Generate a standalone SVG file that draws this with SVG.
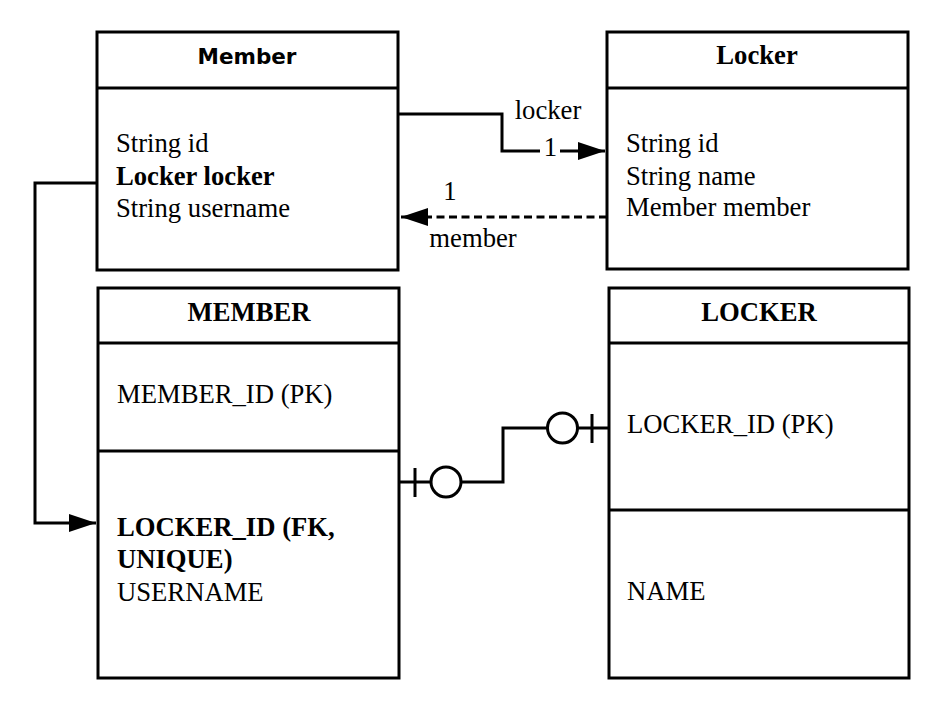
<svg xmlns="http://www.w3.org/2000/svg" width="942" height="702" viewBox="0 0 942 702">
<style>
.box{fill:#fff;stroke:#000;stroke-width:3}
.ln{fill:none;stroke:#000;stroke-width:3}
.t{font-family:"Liberation Serif","Times New Roman",serif;font-size:26.67px;fill:#000}
.b{font-weight:bold}
.st{font-family:"DejaVu Sans",sans-serif;font-size:21.5px;font-weight:bold;fill:#000}
.c{text-anchor:middle}
</style>
<defs>
<marker id="arr" viewBox="0 0 28 20" refX="27" refY="10" markerWidth="28" markerHeight="20" markerUnits="userSpaceOnUse" orient="auto">
<path d="M0,1 L27,10 L0,19 Z" fill="#000"/>
</marker>
</defs>
<g id="connectors">
<path class="ln" d="M398,114 H502 V151 H605" marker-end="url(#arr)"/>
<rect x="540" y="136" width="20" height="26" fill="#fff"/>
<text class="t c" x="550.5" y="156">1</text>
<text class="t c" x="548" y="119">locker</text>
<path class="ln" d="M607,217 H401" stroke-dasharray="8 4.5" marker-end="url(#arr)"/>
<text class="t c" x="450" y="200">1</text>
<text class="t c" x="473" y="247">member</text>
<path class="ln" d="M97,183 H35 V523 H96" marker-end="url(#arr)"/>
<path class="ln" d="M399,482 H430 M461,482 H503 V428 H547 M578,428 H609"/>
<line class="ln" x1="415" y1="468" x2="415" y2="497"/>
<circle class="ln" cx="446" cy="482" r="15"/>
<circle class="ln" cx="562.5" cy="428" r="15"/>
<line class="ln" x1="592" y1="414" x2="592" y2="443"/>
</g>
<g id="member-class">
<rect class="box" x="97" y="32" width="301" height="238"/>
<line class="ln" x1="97" y1="88" x2="398" y2="88"/>
<text class="st c" x="247" y="64">Member</text>
<text class="t" x="116" y="152">String id</text>
<text class="t b" x="116" y="185">Locker locker</text>
<text class="t" x="116" y="217">String username</text>
</g>
<g id="locker-class">
<rect class="box" x="607" y="32" width="301" height="237"/>
<line class="ln" x1="607" y1="88" x2="908" y2="88"/>
<text class="t b c" x="757" y="64">Locker</text>
<text class="t" x="626" y="152">String id</text>
<text class="t" x="626" y="185">String name</text>
<text class="t" x="626" y="216">Member member</text>
</g>
<g id="member-table">
<rect class="box" x="98" y="288" width="301" height="390"/>
<line class="ln" x1="98" y1="343" x2="399" y2="343"/>
<line class="ln" x1="98" y1="451" x2="399" y2="451"/>
<text class="t b c" x="249" y="321">MEMBER</text>
<text class="t" x="117" y="403">MEMBER_ID (PK)</text>
<text class="t b" x="117" y="536">LOCKER_ID (FK,</text>
<text class="t b" x="117" y="568">UNIQUE)</text>
<text class="t" x="117" y="601">USERNAME</text>
</g>
<g id="locker-table">
<rect class="box" x="609" y="288" width="300" height="390"/>
<line class="ln" x1="609" y1="343" x2="909" y2="343"/>
<line class="ln" x1="609" y1="510" x2="909" y2="510"/>
<text class="t b c" x="759" y="321">LOCKER</text>
<text class="t" x="627" y="433">LOCKER_ID (PK)</text>
<text class="t" x="627" y="600">NAME</text>
</g>
</svg>
